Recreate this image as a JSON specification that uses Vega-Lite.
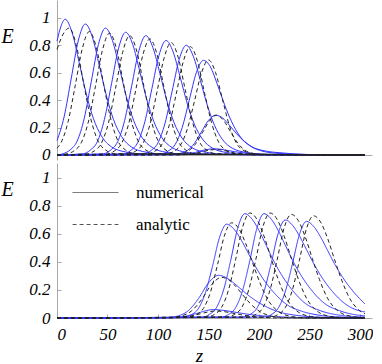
{
"$schema":"https://vega.github.io/schema/vega-lite/v6.json",
"padding":{"left":1,"top":0,"right":0,"bottom":0},
"spacing":0,
"config":{
 "view":{"stroke":null},
 "font":"Times New Roman, Liberation Serif, DejaVu Serif, serif",
 "axis":{"domainColor":"#a8a8a8","tickColor":"#a8a8a8","grid":false,"labelFont":"Times New Roman, Liberation Serif, DejaVu Serif, serif","labelFontStyle":"italic","labelFontSize":17,"labelColor":"#000","titleFont":"Times New Roman, Liberation Serif, DejaVu Serif, serif","titleFontStyle":"italic","titleFontWeight":"normal","titleFontSize":20,"titleColor":"#000"},
 "legend":{"labelFont":"Times New Roman, Liberation Serif, DejaVu Serif, serif"}
},
"datasets":{
"top":[
{"c":"b1","t":"numerical","z":0,"E":0.83},{"c":"b1","t":"numerical","z":4,"E":0.94},{"c":"b1","t":"numerical","z":8,"E":0.99},{"c":"b1","t":"numerical","z":15,"E":0.891},{"c":"b1","t":"numerical","z":22,"E":0.673},{"c":"b1","t":"numerical","z":29,"E":0.446},{"c":"b1","t":"numerical","z":36,"E":0.267},{"c":"b1","t":"numerical","z":44,"E":0.139},{"c":"b1","t":"numerical","z":54,"E":0.059},{"c":"b1","t":"numerical","z":68,"E":0.022},{"c":"b1","t":"numerical","z":88,"E":0.006},{"c":"b1","t":"numerical","z":305,"E":0},
{"c":"b2","t":"numerical","z":0,"E":0.105},{"c":"b2","t":"numerical","z":7,"E":0.277},{"c":"b2","t":"numerical","z":14,"E":0.554},{"c":"b2","t":"numerical","z":21,"E":0.831},{"c":"b2","t":"numerical","z":28,"E":0.955},{"c":"b2","t":"numerical","z":35,"E":0.86},{"c":"b2","t":"numerical","z":42,"E":0.649},{"c":"b2","t":"numerical","z":49,"E":0.43},{"c":"b2","t":"numerical","z":56,"E":0.258},{"c":"b2","t":"numerical","z":64,"E":0.134},{"c":"b2","t":"numerical","z":74,"E":0.057},{"c":"b2","t":"numerical","z":88,"E":0.021},{"c":"b2","t":"numerical","z":108,"E":0.006},{"c":"b2","t":"numerical","z":305,"E":0},
{"c":"b3","t":"numerical","z":0,"E":0},{"c":"b3","t":"numerical","z":6,"E":0.009},{"c":"b3","t":"numerical","z":13,"E":0.037},{"c":"b3","t":"numerical","z":20,"E":0.102},{"c":"b3","t":"numerical","z":27,"E":0.268},{"c":"b3","t":"numerical","z":34,"E":0.537},{"c":"b3","t":"numerical","z":41,"E":0.805},{"c":"b3","t":"numerical","z":48,"E":0.925},{"c":"b3","t":"numerical","z":55,"E":0.833},{"c":"b3","t":"numerical","z":62,"E":0.629},{"c":"b3","t":"numerical","z":69,"E":0.416},{"c":"b3","t":"numerical","z":76,"E":0.25},{"c":"b3","t":"numerical","z":84,"E":0.13},{"c":"b3","t":"numerical","z":94,"E":0.056},{"c":"b3","t":"numerical","z":108,"E":0.02},{"c":"b3","t":"numerical","z":128,"E":0.006},{"c":"b3","t":"numerical","z":305,"E":0},
{"c":"b4","t":"numerical","z":0,"E":0},{"c":"b4","t":"numerical","z":26,"E":0.009},{"c":"b4","t":"numerical","z":33,"E":0.036},{"c":"b4","t":"numerical","z":40,"E":0.098},{"c":"b4","t":"numerical","z":47,"E":0.26},{"c":"b4","t":"numerical","z":54,"E":0.519},{"c":"b4","t":"numerical","z":61,"E":0.779},{"c":"b4","t":"numerical","z":68,"E":0.895},{"c":"b4","t":"numerical","z":75,"E":0.806},{"c":"b4","t":"numerical","z":82,"E":0.609},{"c":"b4","t":"numerical","z":89,"E":0.403},{"c":"b4","t":"numerical","z":96,"E":0.242},{"c":"b4","t":"numerical","z":104,"E":0.125},{"c":"b4","t":"numerical","z":114,"E":0.054},{"c":"b4","t":"numerical","z":128,"E":0.02},{"c":"b4","t":"numerical","z":148,"E":0.005},{"c":"b4","t":"numerical","z":305,"E":0},
{"c":"b5","t":"numerical","z":0,"E":0},{"c":"b5","t":"numerical","z":46,"E":0.009},{"c":"b5","t":"numerical","z":53,"E":0.035},{"c":"b5","t":"numerical","z":60,"E":0.096},{"c":"b5","t":"numerical","z":67,"E":0.252},{"c":"b5","t":"numerical","z":74,"E":0.505},{"c":"b5","t":"numerical","z":81,"E":0.757},{"c":"b5","t":"numerical","z":88,"E":0.87},{"c":"b5","t":"numerical","z":95,"E":0.783},{"c":"b5","t":"numerical","z":102,"E":0.592},{"c":"b5","t":"numerical","z":109,"E":0.392},{"c":"b5","t":"numerical","z":116,"E":0.235},{"c":"b5","t":"numerical","z":124,"E":0.122},{"c":"b5","t":"numerical","z":134,"E":0.052},{"c":"b5","t":"numerical","z":148,"E":0.019},{"c":"b5","t":"numerical","z":168,"E":0.005},{"c":"b5","t":"numerical","z":305,"E":0},
{"c":"b6","t":"numerical","z":0,"E":0},{"c":"b6","t":"numerical","z":66,"E":0.008},{"c":"b6","t":"numerical","z":73,"E":0.033},{"c":"b6","t":"numerical","z":80,"E":0.092},{"c":"b6","t":"numerical","z":87,"E":0.242},{"c":"b6","t":"numerical","z":94,"E":0.484},{"c":"b6","t":"numerical","z":101,"E":0.726},{"c":"b6","t":"numerical","z":108,"E":0.835},{"c":"b6","t":"numerical","z":115,"E":0.752},{"c":"b6","t":"numerical","z":122,"E":0.568},{"c":"b6","t":"numerical","z":129,"E":0.376},{"c":"b6","t":"numerical","z":136,"E":0.225},{"c":"b6","t":"numerical","z":144,"E":0.117},{"c":"b6","t":"numerical","z":154,"E":0.05},{"c":"b6","t":"numerical","z":168,"E":0.018},{"c":"b6","t":"numerical","z":188,"E":0.005},{"c":"b6","t":"numerical","z":305,"E":0},
{"c":"b7","t":"numerical","z":0,"E":0},{"c":"b7","t":"numerical","z":86,"E":0.008},{"c":"b7","t":"numerical","z":93,"E":0.032},{"c":"b7","t":"numerical","z":100,"E":0.088},{"c":"b7","t":"numerical","z":107,"E":0.232},{"c":"b7","t":"numerical","z":114,"E":0.464},{"c":"b7","t":"numerical","z":121,"E":0.696},{"c":"b7","t":"numerical","z":128,"E":0.8},{"c":"b7","t":"numerical","z":135,"E":0.72},{"c":"b7","t":"numerical","z":142,"E":0.544},{"c":"b7","t":"numerical","z":149,"E":0.36},{"c":"b7","t":"numerical","z":156,"E":0.216},{"c":"b7","t":"numerical","z":164,"E":0.112},{"c":"b7","t":"numerical","z":174,"E":0.048},{"c":"b7","t":"numerical","z":188,"E":0.018},{"c":"b7","t":"numerical","z":208,"E":0.005},{"c":"b7","t":"numerical","z":305,"E":0},
{"c":"b8","t":"numerical","z":0,"E":0},{"c":"b8","t":"numerical","z":103,"E":0.007},{"c":"b8","t":"numerical","z":110,"E":0.028},{"c":"b8","t":"numerical","z":117,"E":0.076},{"c":"b8","t":"numerical","z":124,"E":0.2},{"c":"b8","t":"numerical","z":131,"E":0.4},{"c":"b8","t":"numerical","z":138,"E":0.6},{"c":"b8","t":"numerical","z":145,"E":0.69},{"c":"b8","t":"numerical","z":152,"E":0.642},{"c":"b8","t":"numerical","z":159,"E":0.511},{"c":"b8","t":"numerical","z":166,"E":0.366},{"c":"b8","t":"numerical","z":173,"E":0.242},{"c":"b8","t":"numerical","z":181,"E":0.138},{"c":"b8","t":"numerical","z":191,"E":0.069},{"c":"b8","t":"numerical","z":205,"E":0.031},{"c":"b8","t":"numerical","z":225,"E":0.014},{"c":"b8","t":"numerical","z":245,"E":0.004},{"c":"b8","t":"numerical","z":305,"E":0},
{"c":"b9","t":"numerical","z":0,"E":0},{"c":"b9","t":"numerical","z":115,"E":0.003},{"c":"b9","t":"numerical","z":122,"E":0.012},{"c":"b9","t":"numerical","z":129,"E":0.032},{"c":"b9","t":"numerical","z":136,"E":0.084},{"c":"b9","t":"numerical","z":143,"E":0.168},{"c":"b9","t":"numerical","z":150,"E":0.252},{"c":"b9","t":"numerical","z":157,"E":0.29},{"c":"b9","t":"numerical","z":164,"E":0.27},{"c":"b9","t":"numerical","z":171,"E":0.215},{"c":"b9","t":"numerical","z":178,"E":0.154},{"c":"b9","t":"numerical","z":185,"E":0.102},{"c":"b9","t":"numerical","z":193,"E":0.058},{"c":"b9","t":"numerical","z":203,"E":0.029},{"c":"b9","t":"numerical","z":217,"E":0.013},{"c":"b9","t":"numerical","z":237,"E":0.006},{"c":"b9","t":"numerical","z":257,"E":0.002},{"c":"b9","t":"numerical","z":305,"E":0},
{"c":"b10","t":"numerical","z":0,"E":0},{"c":"b10","t":"numerical","z":120,"E":0.002},{"c":"b10","t":"numerical","z":134,"E":0.013},{"c":"b10","t":"numerical","z":141,"E":0.027},{"c":"b10","t":"numerical","z":148,"E":0.039},{"c":"b10","t":"numerical","z":155,"E":0.045},{"c":"b10","t":"numerical","z":162,"E":0.042},{"c":"b10","t":"numerical","z":169,"E":0.033},{"c":"b10","t":"numerical","z":176,"E":0.024},{"c":"b10","t":"numerical","z":184,"E":0.016},{"c":"b10","t":"numerical","z":194,"E":0.008},{"c":"b10","t":"numerical","z":210,"E":0.003},{"c":"b10","t":"numerical","z":305,"E":0},
{"c":"a1","t":"analytic","z":0,"E":0.77},{"c":"a1","t":"analytic","z":6,"E":0.88},{"c":"a1","t":"analytic","z":12,"E":0.925},{"c":"a1","t":"analytic","z":19,"E":0.805},{"c":"a1","t":"analytic","z":26,"E":0.537},{"c":"a1","t":"analytic","z":33,"E":0.278},{"c":"a1","t":"analytic","z":40,"E":0.111},{"c":"a1","t":"analytic","z":48,"E":0.037},{"c":"a1","t":"analytic","z":58,"E":0.009},{"c":"a1","t":"analytic","z":305,"E":0},
{"c":"a2","t":"analytic","z":0,"E":0.05},{"c":"a2","t":"analytic","z":4,"E":0.09},{"c":"a2","t":"analytic","z":11,"E":0.243},{"c":"a2","t":"analytic","z":18,"E":0.504},{"c":"a2","t":"analytic","z":25,"E":0.774},{"c":"a2","t":"analytic","z":32,"E":0.9},{"c":"a2","t":"analytic","z":39,"E":0.783},{"c":"a2","t":"analytic","z":46,"E":0.522},{"c":"a2","t":"analytic","z":53,"E":0.27},{"c":"a2","t":"analytic","z":60,"E":0.108},{"c":"a2","t":"analytic","z":68,"E":0.036},{"c":"a2","t":"analytic","z":78,"E":0.009},{"c":"a2","t":"analytic","z":305,"E":0},
{"c":"a3","t":"analytic","z":0,"E":0},{"c":"a3","t":"analytic","z":10,"E":0.009},{"c":"a3","t":"analytic","z":17,"E":0.031},{"c":"a3","t":"analytic","z":24,"E":0.089},{"c":"a3","t":"analytic","z":31,"E":0.24},{"c":"a3","t":"analytic","z":38,"E":0.497},{"c":"a3","t":"analytic","z":45,"E":0.764},{"c":"a3","t":"analytic","z":52,"E":0.888},{"c":"a3","t":"analytic","z":59,"E":0.773},{"c":"a3","t":"analytic","z":66,"E":0.515},{"c":"a3","t":"analytic","z":73,"E":0.266},{"c":"a3","t":"analytic","z":80,"E":0.107},{"c":"a3","t":"analytic","z":88,"E":0.036},{"c":"a3","t":"analytic","z":98,"E":0.009},{"c":"a3","t":"analytic","z":305,"E":0},
{"c":"a4","t":"analytic","z":0,"E":0},{"c":"a4","t":"analytic","z":30,"E":0.009},{"c":"a4","t":"analytic","z":37,"E":0.03},{"c":"a4","t":"analytic","z":44,"E":0.087},{"c":"a4","t":"analytic","z":51,"E":0.235},{"c":"a4","t":"analytic","z":58,"E":0.487},{"c":"a4","t":"analytic","z":65,"E":0.748},{"c":"a4","t":"analytic","z":72,"E":0.87},{"c":"a4","t":"analytic","z":79,"E":0.757},{"c":"a4","t":"analytic","z":86,"E":0.505},{"c":"a4","t":"analytic","z":93,"E":0.261},{"c":"a4","t":"analytic","z":100,"E":0.104},{"c":"a4","t":"analytic","z":108,"E":0.035},{"c":"a4","t":"analytic","z":118,"E":0.009},{"c":"a4","t":"analytic","z":305,"E":0},
{"c":"a5","t":"analytic","z":0,"E":0},{"c":"a5","t":"analytic","z":50,"E":0.008},{"c":"a5","t":"analytic","z":57,"E":0.03},{"c":"a5","t":"analytic","z":64,"E":0.085},{"c":"a5","t":"analytic","z":71,"E":0.228},{"c":"a5","t":"analytic","z":78,"E":0.474},{"c":"a5","t":"analytic","z":85,"E":0.728},{"c":"a5","t":"analytic","z":92,"E":0.846},{"c":"a5","t":"analytic","z":99,"E":0.736},{"c":"a5","t":"analytic","z":106,"E":0.491},{"c":"a5","t":"analytic","z":113,"E":0.254},{"c":"a5","t":"analytic","z":120,"E":0.102},{"c":"a5","t":"analytic","z":128,"E":0.034},{"c":"a5","t":"analytic","z":138,"E":0.008},{"c":"a5","t":"analytic","z":305,"E":0},
{"c":"a6","t":"analytic","z":0,"E":0},{"c":"a6","t":"analytic","z":71,"E":0.008},{"c":"a6","t":"analytic","z":78,"E":0.029},{"c":"a6","t":"analytic","z":85,"E":0.082},{"c":"a6","t":"analytic","z":92,"E":0.221},{"c":"a6","t":"analytic","z":99,"E":0.459},{"c":"a6","t":"analytic","z":106,"E":0.705},{"c":"a6","t":"analytic","z":113,"E":0.82},{"c":"a6","t":"analytic","z":120,"E":0.713},{"c":"a6","t":"analytic","z":127,"E":0.476},{"c":"a6","t":"analytic","z":134,"E":0.246},{"c":"a6","t":"analytic","z":141,"E":0.098},{"c":"a6","t":"analytic","z":149,"E":0.033},{"c":"a6","t":"analytic","z":159,"E":0.008},{"c":"a6","t":"analytic","z":305,"E":0},
{"c":"a7","t":"analytic","z":0,"E":0},{"c":"a7","t":"analytic","z":90,"E":0.008},{"c":"a7","t":"analytic","z":97,"E":0.028},{"c":"a7","t":"analytic","z":104,"E":0.079},{"c":"a7","t":"analytic","z":111,"E":0.213},{"c":"a7","t":"analytic","z":118,"E":0.442},{"c":"a7","t":"analytic","z":125,"E":0.679},{"c":"a7","t":"analytic","z":132,"E":0.79},{"c":"a7","t":"analytic","z":139,"E":0.687},{"c":"a7","t":"analytic","z":146,"E":0.458},{"c":"a7","t":"analytic","z":153,"E":0.237},{"c":"a7","t":"analytic","z":160,"E":0.095},{"c":"a7","t":"analytic","z":168,"E":0.032},{"c":"a7","t":"analytic","z":178,"E":0.008},{"c":"a7","t":"analytic","z":305,"E":0},
{"c":"a8","t":"analytic","z":0,"E":0},{"c":"a8","t":"analytic","z":108,"E":0.007},{"c":"a8","t":"analytic","z":115,"E":0.024},{"c":"a8","t":"analytic","z":122,"E":0.069},{"c":"a8","t":"analytic","z":129,"E":0.187},{"c":"a8","t":"analytic","z":136,"E":0.388},{"c":"a8","t":"analytic","z":143,"E":0.596},{"c":"a8","t":"analytic","z":150,"E":0.693},{"c":"a8","t":"analytic","z":157,"E":0.603},{"c":"a8","t":"analytic","z":164,"E":0.402},{"c":"a8","t":"analytic","z":171,"E":0.208},{"c":"a8","t":"analytic","z":178,"E":0.083},{"c":"a8","t":"analytic","z":186,"E":0.028},{"c":"a8","t":"analytic","z":196,"E":0.007},{"c":"a8","t":"analytic","z":305,"E":0},
{"c":"a9","t":"analytic","z":0,"E":0},{"c":"a9","t":"analytic","z":116,"E":0.003},{"c":"a9","t":"analytic","z":123,"E":0.01},{"c":"a9","t":"analytic","z":130,"E":0.029},{"c":"a9","t":"analytic","z":137,"E":0.078},{"c":"a9","t":"analytic","z":144,"E":0.162},{"c":"a9","t":"analytic","z":151,"E":0.249},{"c":"a9","t":"analytic","z":158,"E":0.29},{"c":"a9","t":"analytic","z":165,"E":0.252},{"c":"a9","t":"analytic","z":172,"E":0.168},{"c":"a9","t":"analytic","z":179,"E":0.087},{"c":"a9","t":"analytic","z":186,"E":0.035},{"c":"a9","t":"analytic","z":194,"E":0.012},{"c":"a9","t":"analytic","z":204,"E":0.003},{"c":"a9","t":"analytic","z":305,"E":0},
{"c":"a10","t":"analytic","z":0,"E":0},{"c":"a10","t":"analytic","z":122,"E":0.001},{"c":"a10","t":"analytic","z":136,"E":0.011},{"c":"a10","t":"analytic","z":143,"E":0.022},{"c":"a10","t":"analytic","z":150,"E":0.034},{"c":"a10","t":"analytic","z":157,"E":0.04},{"c":"a10","t":"analytic","z":164,"E":0.035},{"c":"a10","t":"analytic","z":171,"E":0.023},{"c":"a10","t":"analytic","z":178,"E":0.012},{"c":"a10","t":"analytic","z":186,"E":0.005},{"c":"a10","t":"analytic","z":196,"E":0.001},{"c":"a10","t":"analytic","z":305,"E":0}
],
"bot":[
{"c":"n1","t":"numerical","z":0,"E":0},{"c":"n1","t":"numerical","z":126,"E":0.007},{"c":"n1","t":"numerical","z":133,"E":0.023},{"c":"n1","t":"numerical","z":140,"E":0.067},{"c":"n1","t":"numerical","z":147,"E":0.181},{"c":"n1","t":"numerical","z":154,"E":0.369},{"c":"n1","t":"numerical","z":161,"E":0.576},{"c":"n1","t":"numerical","z":168,"E":0.67},{"c":"n1","t":"numerical","z":175,"E":0.637},{"c":"n1","t":"numerical","z":182,"E":0.563},{"c":"n1","t":"numerical","z":189,"E":0.469},{"c":"n1","t":"numerical","z":196,"E":0.375},{"c":"n1","t":"numerical","z":204,"E":0.281},{"c":"n1","t":"numerical","z":214,"E":0.188},{"c":"n1","t":"numerical","z":228,"E":0.094},{"c":"n1","t":"numerical","z":243,"E":0.047},{"c":"n1","t":"numerical","z":263,"E":0.017},{"c":"n1","t":"numerical","z":288,"E":0.005},{"c":"n1","t":"numerical","z":305,"E":0.002},
{"c":"n2","t":"numerical","z":0,"E":0},{"c":"n2","t":"numerical","z":144,"E":0.007},{"c":"n2","t":"numerical","z":151,"E":0.026},{"c":"n2","t":"numerical","z":158,"E":0.075},{"c":"n2","t":"numerical","z":165,"E":0.201},{"c":"n2","t":"numerical","z":172,"E":0.41},{"c":"n2","t":"numerical","z":179,"E":0.641},{"c":"n2","t":"numerical","z":186,"E":0.745},{"c":"n2","t":"numerical","z":193,"E":0.708},{"c":"n2","t":"numerical","z":200,"E":0.626},{"c":"n2","t":"numerical","z":207,"E":0.522},{"c":"n2","t":"numerical","z":214,"E":0.417},{"c":"n2","t":"numerical","z":222,"E":0.313},{"c":"n2","t":"numerical","z":232,"E":0.209},{"c":"n2","t":"numerical","z":246,"E":0.104},{"c":"n2","t":"numerical","z":261,"E":0.052},{"c":"n2","t":"numerical","z":281,"E":0.019},{"c":"n2","t":"numerical","z":305,"E":0.007},
{"c":"n3","t":"numerical","z":0,"E":0},{"c":"n3","t":"numerical","z":163,"E":0.007},{"c":"n3","t":"numerical","z":170,"E":0.026},{"c":"n3","t":"numerical","z":177,"E":0.075},{"c":"n3","t":"numerical","z":184,"E":0.201},{"c":"n3","t":"numerical","z":191,"E":0.41},{"c":"n3","t":"numerical","z":198,"E":0.641},{"c":"n3","t":"numerical","z":205,"E":0.745},{"c":"n3","t":"numerical","z":212,"E":0.708},{"c":"n3","t":"numerical","z":219,"E":0.626},{"c":"n3","t":"numerical","z":226,"E":0.522},{"c":"n3","t":"numerical","z":233,"E":0.417},{"c":"n3","t":"numerical","z":241,"E":0.313},{"c":"n3","t":"numerical","z":251,"E":0.209},{"c":"n3","t":"numerical","z":265,"E":0.104},{"c":"n3","t":"numerical","z":280,"E":0.052},{"c":"n3","t":"numerical","z":300,"E":0.019},{"c":"n3","t":"numerical","z":305,"E":0.016},
{"c":"n4","t":"numerical","z":0,"E":0},{"c":"n4","t":"numerical","z":184,"E":0.007},{"c":"n4","t":"numerical","z":191,"E":0.025},{"c":"n4","t":"numerical","z":198,"E":0.07},{"c":"n4","t":"numerical","z":205,"E":0.189},{"c":"n4","t":"numerical","z":212,"E":0.385},{"c":"n4","t":"numerical","z":219,"E":0.602},{"c":"n4","t":"numerical","z":226,"E":0.7},{"c":"n4","t":"numerical","z":233,"E":0.665},{"c":"n4","t":"numerical","z":240,"E":0.588},{"c":"n4","t":"numerical","z":247,"E":0.49},{"c":"n4","t":"numerical","z":254,"E":0.392},{"c":"n4","t":"numerical","z":262,"E":0.294},{"c":"n4","t":"numerical","z":272,"E":0.196},{"c":"n4","t":"numerical","z":286,"E":0.098},{"c":"n4","t":"numerical","z":301,"E":0.049},{"c":"n4","t":"numerical","z":305,"E":0.044},
{"c":"n5","t":"numerical","z":0,"E":0},{"c":"n5","t":"numerical","z":205,"E":0.007},{"c":"n5","t":"numerical","z":212,"E":0.024},{"c":"n5","t":"numerical","z":219,"E":0.069},{"c":"n5","t":"numerical","z":226,"E":0.186},{"c":"n5","t":"numerical","z":233,"E":0.38},{"c":"n5","t":"numerical","z":240,"E":0.593},{"c":"n5","t":"numerical","z":247,"E":0.69},{"c":"n5","t":"numerical","z":254,"E":0.656},{"c":"n5","t":"numerical","z":261,"E":0.58},{"c":"n5","t":"numerical","z":268,"E":0.483},{"c":"n5","t":"numerical","z":275,"E":0.386},{"c":"n5","t":"numerical","z":283,"E":0.29},{"c":"n5","t":"numerical","z":293,"E":0.193},{"c":"n5","t":"numerical","z":305,"E":0.1},
{"c":"n6","t":"numerical","z":0,"E":0},{"c":"n6","t":"numerical","z":110,"E":0.003},{"c":"n6","t":"numerical","z":120,"E":0.015},{"c":"n6","t":"numerical","z":130,"E":0.052},{"c":"n6","t":"numerical","z":140,"E":0.137},{"c":"n6","t":"numerical","z":150,"E":0.25},{"c":"n6","t":"numerical","z":160,"E":0.305},{"c":"n6","t":"numerical","z":167,"E":0.29},{"c":"n6","t":"numerical","z":174,"E":0.256},{"c":"n6","t":"numerical","z":181,"E":0.214},{"c":"n6","t":"numerical","z":188,"E":0.171},{"c":"n6","t":"numerical","z":196,"E":0.128},{"c":"n6","t":"numerical","z":206,"E":0.085},{"c":"n6","t":"numerical","z":220,"E":0.043},{"c":"n6","t":"numerical","z":235,"E":0.021},{"c":"n6","t":"numerical","z":255,"E":0.008},{"c":"n6","t":"numerical","z":280,"E":0.002},{"c":"n6","t":"numerical","z":305,"E":0},
{"c":"n7","t":"numerical","z":0,"E":0},{"c":"n7","t":"numerical","z":105,"E":0.001},{"c":"n7","t":"numerical","z":120,"E":0.005},{"c":"n7","t":"numerical","z":130,"E":0.017},{"c":"n7","t":"numerical","z":140,"E":0.036},{"c":"n7","t":"numerical","z":148,"E":0.053},{"c":"n7","t":"numerical","z":155,"E":0.06},{"c":"n7","t":"numerical","z":163,"E":0.056},{"c":"n7","t":"numerical","z":171,"E":0.048},{"c":"n7","t":"numerical","z":180,"E":0.037},{"c":"n7","t":"numerical","z":190,"E":0.026},{"c":"n7","t":"numerical","z":205,"E":0.015},{"c":"n7","t":"numerical","z":225,"E":0.007},{"c":"n7","t":"numerical","z":250,"E":0.002},{"c":"n7","t":"numerical","z":305,"E":0},
{"c":"m1","t":"analytic","z":0,"E":0},{"c":"m1","t":"analytic","z":131,"E":0.007},{"c":"m1","t":"analytic","z":138,"E":0.024},{"c":"m1","t":"analytic","z":145,"E":0.068},{"c":"m1","t":"analytic","z":152,"E":0.184},{"c":"m1","t":"analytic","z":159,"E":0.381},{"c":"m1","t":"analytic","z":166,"E":0.592},{"c":"m1","t":"analytic","z":173,"E":0.68},{"c":"m1","t":"analytic","z":180,"E":0.639},{"c":"m1","t":"analytic","z":187,"E":0.53},{"c":"m1","t":"analytic","z":194,"E":0.388},{"c":"m1","t":"analytic","z":201,"E":0.252},{"c":"m1","t":"analytic","z":209,"E":0.129},{"c":"m1","t":"analytic","z":219,"E":0.048},{"c":"m1","t":"analytic","z":233,"E":0.01},{"c":"m1","t":"analytic","z":248,"E":0.001},{"c":"m1","t":"analytic","z":305,"E":0},
{"c":"m2","t":"analytic","z":0,"E":0},{"c":"m2","t":"analytic","z":149,"E":0.008},{"c":"m2","t":"analytic","z":156,"E":0.026},{"c":"m2","t":"analytic","z":163,"E":0.075},{"c":"m2","t":"analytic","z":170,"E":0.203},{"c":"m2","t":"analytic","z":177,"E":0.42},{"c":"m2","t":"analytic","z":184,"E":0.653},{"c":"m2","t":"analytic","z":191,"E":0.75},{"c":"m2","t":"analytic","z":198,"E":0.705},{"c":"m2","t":"analytic","z":205,"E":0.585},{"c":"m2","t":"analytic","z":212,"E":0.428},{"c":"m2","t":"analytic","z":219,"E":0.278},{"c":"m2","t":"analytic","z":227,"E":0.143},{"c":"m2","t":"analytic","z":237,"E":0.053},{"c":"m2","t":"analytic","z":251,"E":0.011},{"c":"m2","t":"analytic","z":266,"E":0.002},{"c":"m2","t":"analytic","z":305,"E":0},
{"c":"m3","t":"analytic","z":0,"E":0},{"c":"m3","t":"analytic","z":169,"E":0.008},{"c":"m3","t":"analytic","z":176,"E":0.026},{"c":"m3","t":"analytic","z":183,"E":0.075},{"c":"m3","t":"analytic","z":190,"E":0.203},{"c":"m3","t":"analytic","z":197,"E":0.42},{"c":"m3","t":"analytic","z":204,"E":0.653},{"c":"m3","t":"analytic","z":211,"E":0.75},{"c":"m3","t":"analytic","z":218,"E":0.705},{"c":"m3","t":"analytic","z":225,"E":0.585},{"c":"m3","t":"analytic","z":232,"E":0.428},{"c":"m3","t":"analytic","z":239,"E":0.278},{"c":"m3","t":"analytic","z":247,"E":0.143},{"c":"m3","t":"analytic","z":257,"E":0.053},{"c":"m3","t":"analytic","z":271,"E":0.011},{"c":"m3","t":"analytic","z":286,"E":0.002},{"c":"m3","t":"analytic","z":305,"E":0},
{"c":"m4","t":"analytic","z":0,"E":0},{"c":"m4","t":"analytic","z":190,"E":0.007},{"c":"m4","t":"analytic","z":197,"E":0.026},{"c":"m4","t":"analytic","z":204,"E":0.074},{"c":"m4","t":"analytic","z":211,"E":0.2},{"c":"m4","t":"analytic","z":218,"E":0.414},{"c":"m4","t":"analytic","z":225,"E":0.644},{"c":"m4","t":"analytic","z":232,"E":0.74},{"c":"m4","t":"analytic","z":239,"E":0.696},{"c":"m4","t":"analytic","z":246,"E":0.577},{"c":"m4","t":"analytic","z":253,"E":0.422},{"c":"m4","t":"analytic","z":260,"E":0.274},{"c":"m4","t":"analytic","z":268,"E":0.141},{"c":"m4","t":"analytic","z":278,"E":0.052},{"c":"m4","t":"analytic","z":292,"E":0.011},{"c":"m4","t":"analytic","z":305,"E":0.002},
{"c":"m5","t":"analytic","z":0,"E":0},{"c":"m5","t":"analytic","z":212,"E":0.007},{"c":"m5","t":"analytic","z":219,"E":0.026},{"c":"m5","t":"analytic","z":226,"E":0.073},{"c":"m5","t":"analytic","z":233,"E":0.197},{"c":"m5","t":"analytic","z":240,"E":0.409},{"c":"m5","t":"analytic","z":247,"E":0.635},{"c":"m5","t":"analytic","z":254,"E":0.73},{"c":"m5","t":"analytic","z":261,"E":0.686},{"c":"m5","t":"analytic","z":268,"E":0.569},{"c":"m5","t":"analytic","z":275,"E":0.416},{"c":"m5","t":"analytic","z":282,"E":0.27},{"c":"m5","t":"analytic","z":290,"E":0.139},{"c":"m5","t":"analytic","z":300,"E":0.051},{"c":"m5","t":"analytic","z":305,"E":0.03},
{"c":"m6","t":"analytic","z":0,"E":0},{"c":"m6","t":"analytic","z":113,"E":0.003},{"c":"m6","t":"analytic","z":123,"E":0.014},{"c":"m6","t":"analytic","z":133,"E":0.049},{"c":"m6","t":"analytic","z":143,"E":0.13},{"c":"m6","t":"analytic","z":153,"E":0.238},{"c":"m6","t":"analytic","z":163,"E":0.29},{"c":"m6","t":"analytic","z":170,"E":0.273},{"c":"m6","t":"analytic","z":177,"E":0.226},{"c":"m6","t":"analytic","z":184,"E":0.165},{"c":"m6","t":"analytic","z":191,"E":0.107},{"c":"m6","t":"analytic","z":199,"E":0.055},{"c":"m6","t":"analytic","z":209,"E":0.02},{"c":"m6","t":"analytic","z":223,"E":0.004},{"c":"m6","t":"analytic","z":240,"E":0.001},{"c":"m6","t":"analytic","z":305,"E":0},
{"c":"m7","t":"analytic","z":0,"E":0},{"c":"m7","t":"analytic","z":107,"E":0.001},{"c":"m7","t":"analytic","z":122,"E":0.005},{"c":"m7","t":"analytic","z":132,"E":0.014},{"c":"m7","t":"analytic","z":142,"E":0.03},{"c":"m7","t":"analytic","z":150,"E":0.044},{"c":"m7","t":"analytic","z":157,"E":0.05},{"c":"m7","t":"analytic","z":165,"E":0.046},{"c":"m7","t":"analytic","z":173,"E":0.036},{"c":"m7","t":"analytic","z":182,"E":0.024},{"c":"m7","t":"analytic","z":192,"E":0.012},{"c":"m7","t":"analytic","z":205,"E":0.004},{"c":"m7","t":"analytic","z":220,"E":0.001},{"c":"m7","t":"analytic","z":305,"E":0}
]
},
"resolve":{"legend":{"strokeDash":"independent"},"scale":{"strokeDash":"independent"}},
"vconcat":[
{
 "width":315,"height":160,
 "data":{"name":"top"},
 "encoding":{
  "x":{"field":"z","type":"quantitative","scale":{"domain":[0,312],"nice":false,"zero":false},"axis":{"labels":false,"ticks":false,"title":null,"offset":-5}},
  "y":{"field":"E","type":"quantitative","scale":{"domain":[-0.0365,1.13],"nice":false,"zero":false},"axis":{"values":[0,0.2,0.4,0.6,0.8,1],"format":"~g","tickSize":-4,"labelPadding":11,"title":"E","titleAngle":0,"titleX":-56,"titleY":36,"titleAlign":"left","titleBaseline":"middle"}},
  "detail":{"field":"c"}
 },
 "layer":[
  {"transform":[{"filter":"datum.t=='numerical'"}],"mark":{"type":"line","color":"#3333ff","strokeWidth":1,"interpolate":"monotone"}},
  {"transform":[{"filter":"datum.t=='analytic'"}],"mark":{"type":"line","color":"#222222","strokeWidth":1,"strokeDash":[4,3],"interpolate":"monotone"}}
 ]
},
{
 "width":315,"height":155,
 "data":{"name":"bot"},
 "encoding":{
  "x":{"field":"z","type":"quantitative","scale":{"domain":[0,312],"nice":false,"zero":false},"axis":{"values":[0,50,100,150,200,250,300],"format":"d","tickSize":-4,"labelPadding":12,"title":"z","titleFontSize":19,"titleX":142,"titleY":37,"titleBaseline":"middle","titleAlign":"center"}},
  "y":{"field":"E","type":"quantitative","scale":{"domain":[0,1.107],"nice":false,"zero":false},"axis":{"values":[0,0.2,0.4,0.6,0.8,1],"format":"~g","tickSize":-4,"labelPadding":11,"title":"E","titleAngle":0,"titleX":-56,"titleY":26,"titleAlign":"left","titleBaseline":"middle"}},
  "detail":{"field":"c"},
  "strokeDash":{"field":"t","type":"nominal","scale":{"domain":["numerical","analytic"],"range":[[1,0],[4,3]]},"legend":{"title":null,"orient":"none","legendX":15,"legendY":6,"symbolType":"stroke","symbolSize":2100,"symbolStrokeWidth":1,"symbolStrokeColor":"#555555","labelFont":"Times New Roman, Liberation Serif, DejaVu Serif, serif","labelFontSize":17,"labelColor":"#000","labelOffset":17,"rowPadding":-2,"padding":0}}
 },
 "layer":[
  {"transform":[{"filter":"datum.t=='numerical'"}],"mark":{"type":"line","color":"#3333ff","strokeWidth":1,"interpolate":"monotone"}},
  {"transform":[{"filter":"datum.t=='analytic'"}],"mark":{"type":"line","color":"#222222","strokeWidth":1,"interpolate":"monotone"}}
 ]
}
]
}
